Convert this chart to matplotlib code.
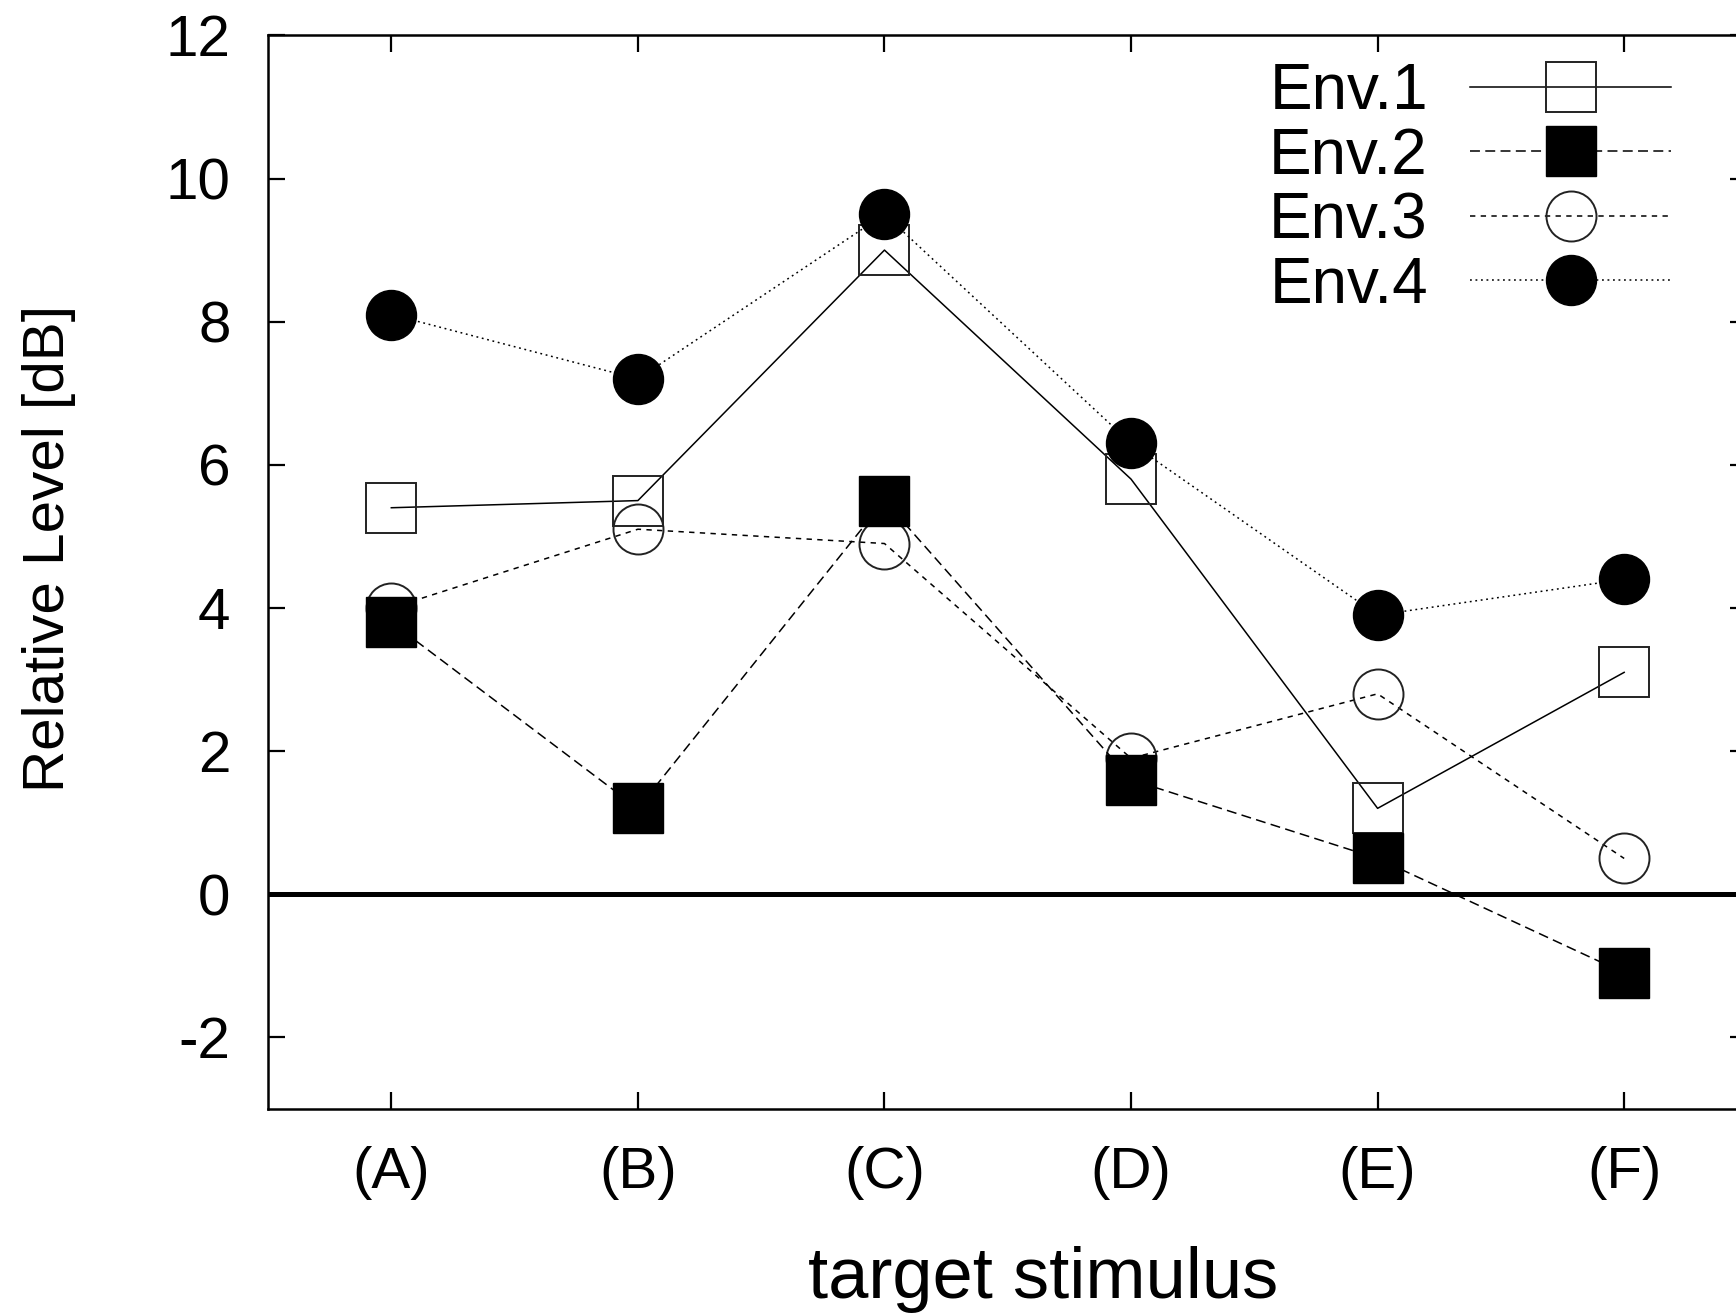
import matplotlib.pyplot as plt

plt.rcParams['font.family'] = ['Liberation Sans', 'DejaVu Sans']
plt.rcParams['axes.unicode_minus'] = False

# values
stimuli = ['(A)', '(B)', '(C)', '(D)', '(E)', '(F)']
env1 = [5.4, 5.5, 9.0, 5.8, 1.2, 3.1]
env2 = [3.8, 1.2, 5.5, 1.6, 0.5, -1.1]
env3 = [4.0, 5.1, 4.9, 1.9, 2.8, 0.5]
env4 = [8.1, 7.2, 9.5, 6.3, 3.9, 4.4]
yticks = [-2, 0, 2, 4, 6, 8, 10, 12]

fs = 42
x = range(len(stimuli))

fig = plt.figure(figsize=(17.36, 13.15), dpi=100)
ax = fig.add_axes([0.1544, 0.1567, 0.8522, 0.8164])

ax.axhline(0, color='black', lw=3.6, zorder=1.5)

ms = 36
ax.plot(x, env1, color='black', lw=1.1, linestyle='-', marker='s', ms=ms,
        mfc='none', mec='#222222', mew=1.4, label='Env.1', zorder=2.0)
ax.plot(x, env3, color='black', lw=1.1, linestyle=(0, (3.5, 3.5)), marker='o',
        ms=ms, mfc='none', mec='#222222', mew=1.4, label='Env.3', zorder=2.1)
ax.plot(x, env2, color='black', lw=1.1, linestyle=(0, (6.5, 3.5)), marker='s',
        ms=ms, mfc='black', mec='black', mew=1.0, label='Env.2', zorder=2.2)
ax.plot(x, env4, color='black', lw=1.1, linestyle=(0, (1.2, 2.4)), marker='o',
        ms=ms, mfc='black', mec='black', mew=1.0, label='Env.4', zorder=2.3)

ax.set_xlim(-0.5, len(stimuli) - 0.5)
ax.set_ylim(-3, 12)
ax.set_xticks(list(x))
ax.set_xticklabels(stimuli)
ax.set_yticks(yticks)
ax.tick_params(direction='in', length=12, width=1.6, labelsize=fs, pad=27,
               top=True, right=True)
for s in ax.spines.values():
    s.set_linewidth(1.8)

ax.set_ylabel('Relative Level [dB]', fontsize=fs, va='center')
ax.yaxis.set_label_coords(-0.148, 0.522)
ax.set_xlabel('target stimulus', fontsize=52, va='baseline')
ax.xaxis.set_label_coords(0.524, -0.176)

handles, labels = ax.get_legend_handles_labels()
order = [0, 2, 1, 3]
ax.legend([handles[i] for i in order], [labels[i] for i in order],
          loc='upper right', bbox_to_anchor=(0.9486, 0.975), frameon=False,
          fontsize=46, markerfirst=False, numpoints=1, handlelength=3.15,
          handletextpad=0.66, labelspacing=0.07, borderpad=0, borderaxespad=0)

fig.savefig('out.png', dpi=100)
